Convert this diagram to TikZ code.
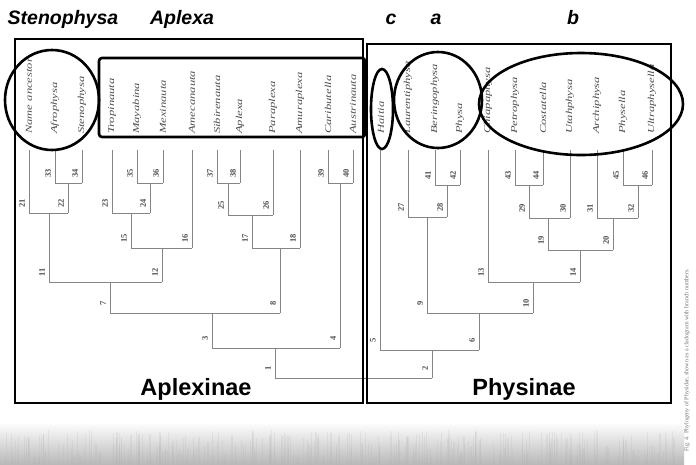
\documentclass[tikz,border=0pt]{standalone}
\usepackage{fontspec}
\setmainfont{Liberation Serif}
\setsansfont{Liberation Sans}
\usetikzlibrary{shapes.geometric}
\definecolor{linegray}{HTML}{858585}
\definecolor{txtgray}{HTML}{505050}
\begin{document}
\begin{tikzpicture}[x=1pt,y=-1pt,
  tax/.style={rotate=90,anchor=west,inner sep=0pt,font=\fontsize{9}{9}\selectfont\itshape,text=txtgray},
  num/.style={rotate=90,inner sep=0pt,font=\fontsize{8.5}{8.5}\selectfont\bfseries,text=txtgray},
  br/.style={draw=linegray,line width=0.9pt},
  oval/.style={draw=black,line width=2.6pt},
  frame/.style={draw=black,line width=1.6pt},
  toplab/.style={font=\fontsize{19.5}{20}\selectfont\sffamily\bfseries\itshape,anchor=base,inner sep=0pt},
  subfam/.style={font=\fontsize{23.5}{24}\selectfont\sffamily\bfseries,anchor=base,inner sep=0pt}]
\useasboundingbox (0,0) rectangle (696,464);
\fill[white] (0,0) rectangle (696,464);

% scanned page edge band
\shade[top color=white,bottom color=gray!55] (0,422) rectangle (684,464);
\pgfmathsetseed{17}
\foreach \i in {1,...,320}{
  \pgfmathsetmacro\xx{rnd*682}
  \pgfmathsetmacro\hh{6+rnd*28}
  \draw[gray!60,opacity=0.2,line width=1.2pt] (\xx,464) -- ++(0,-\hh);
}

% top labels
\node[toplab] (lsteno) at (63,24) {Stenophysa};
\node[toplab] (laplexa) at (182,24) {Aplexa};
\node[toplab] (lc) at (391,24) {c};
\node[toplab] (la) at (436,24) {a};
\node[toplab] (lb) at (573,24) {b};

% taxon names
\foreach \nm/\x in {Name ancestor/29,Afrophysa/55,Stenophysa/82,Tropinauta/112,Mayabina/137,Mexinauta/163,Amecanauta/192,Sibirenauta/217,Aplexa/240,Paraplexa/273,Amuraplexa/300,Caributella/328,Austrinauta/353,Haitia/381,Laurentiphysa/408,Beringophysa/435,Physa/460,Chiapaphysa/488,Petrophysa/515,Costatella/543,Utahphysa/570,Archiphysa/597,Physella/623,Ultraphysella/652}{
  \node[tax] (tx\x) at (\x,134) {\scalebox{1.4}[1]{\nm}};
}

% branches: number/x/top/bottom
\foreach \n/\x/\yt/\yb in {1/275/348/378,2/432/350/378,3/212/313/348,4/340/183/348,5/380/150/350,6/479/313/350,
  7/110/282/313,8/280/248/313,9/427/217/313,10/533/282/313,11/49/213/282,12/162/248/282,13/488/150/282,14/580/250/282,
  15/131/213/248,16/192/150/248,17/252/215/248,18/300/150/248,19/548/218/250,20/613/218/250,
  21/29/150/213,22/68/183/213,23/112/150/213,24/150/183/213,25/228/183/215,26/273/150/215,27/408/150/217,28/447/185/217,
  29/529/185/218,30/570/150/218,31/597/150/218,32/638/185/218,
  33/55/150/183,34/82/150/183,35/137/150/183,36/163/150/183,37/217/150/183,38/240/150/183,39/328/150/183,40/353/150/183,
  41/435/150/185,42/460/150/185,43/515/150/185,44/543/150/185,45/623/150/185,46/652/150/185}{
  \coordinate (t\n) at (\x,\yt);
  \coordinate (b\n) at (\x,\yb);
  \draw[br] (t\n) -- (b\n);
  \node[num] (l\n) at (\x-7,\yb-10) {\n};
}
\foreach \a/\b in {1/2,3/4,5/6,7/8,9/10,11/12,13/14,15/16,17/18,19/20,21/22,23/24,25/26,27/28,29/30,31/32,
  33/34,35/36,37/38,39/40,41/42,43/44,45/46}{
  \draw[br] (b\a) -- (b\b);
}

% frames
\draw[frame] (15,39) rectangle (363,403);
\draw[frame] (367,44) rectangle (671,403);
\node[subfam] (aplexinae) at (196,395) {Aplexinae};
\node[subfam] (physinae) at (524,395) {Physinae};

% groupings
\draw[oval,rounded corners=3pt] (99,58) rectangle (365,137);
\draw[oval] (52,100) ellipse [x radius=47pt,y radius=50pt];
\draw[oval] (382,109) ellipse [x radius=11pt,y radius=40pt];
\draw[oval] (438,100) ellipse [x radius=44pt,y radius=48pt];
\draw[oval] (581,104) ellipse [x radius=102pt,y radius=51pt];

% caption on the page edge
\node[rotate=90,anchor=west,inner sep=0pt,font=\fontsize{6}{6}\selectfont,text=gray!90!black] (cap) at (687,452)
  {Fig. 4. Phylogeny of Physidae, shown as a cladogram with branch numbers.};
\end{tikzpicture}
\end{document}
